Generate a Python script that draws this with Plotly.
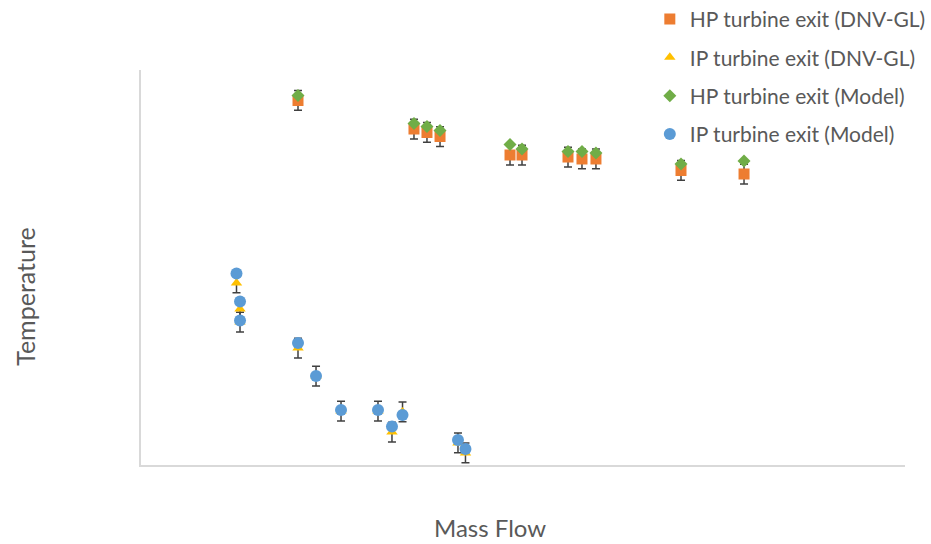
import plotly.graph_objects as go

# Mass flow (relative units) for the HP and IP turbine measurements
hp_flow = [20.55, 35.73, 37.43, 39.14, 48.30, 49.87, 55.89, 57.72, 59.55, 70.68, 78.93]
ip_flow = [12.50, 12.96, 12.96, 20.55, 22.91, 26.18, 31.02, 32.85, 34.23, 41.49, 42.47]

# Exit temperatures (relative units)
hp_dnv = [92.28, 85.06, 84.18, 83.16, 78.48, 78.48, 77.97, 77.47, 77.47, 74.56, 73.67]
hp_model = [93.54, 86.46, 85.70, 84.68, 81.14, 80.00, 79.37, 79.37, 78.99, 76.20, 76.96]
ip_dnv = [46.08, 39.49, 36.20, 29.62, 22.53, 13.67, 13.67, 8.35, 13.42, 5.57, 3.04]
ip_model = [48.48, 41.39, 36.58, 30.89, 22.53, 13.92, 13.92, 9.75, 12.66, 6.33, 4.05]

# Measurement uncertainty on the DNV-GL data
dnv_error = 2.5

names = ["HP turbine exit (DNV-GL)", "IP turbine exit (DNV-GL)",
         "HP turbine exit (Model)", "IP turbine exit (Model)"]

TEXT = "#595959"
err_style = dict(type="constant", value=dnv_error, color="#404040", thickness=1.5, width=4)

fig = go.Figure()
fig.add_trace(go.Scatter(
    x=hp_flow, y=hp_dnv, mode="markers", name=names[0], legendgroup="a",
    marker=dict(symbol="square", size=11, color="#ED7D31"),
    error_y=err_style))
fig.add_trace(go.Scatter(
    x=ip_flow, y=ip_dnv, mode="markers", name=names[1], legendgroup="b",
    marker=dict(symbol="triangle-up", size=10, color="#FFC000"),
    error_y=err_style))
fig.add_trace(go.Scatter(
    x=hp_flow, y=hp_model, mode="markers", name=names[2], legendgroup="c",
    marker=dict(symbol="diamond", size=10, color="#70AD47")))
fig.add_trace(go.Scatter(
    x=ip_flow, y=ip_model, mode="markers", name=names[3], legendgroup="d",
    marker=dict(symbol="circle", size=12, color="#5B9BD5")))

axis_common = dict(showgrid=False, zeroline=False, showticklabels=False, ticks="",
                   showline=True, linecolor="#D9D9D9", linewidth=1.5, fixedrange=True)

fig.update_layout(
    width=931, height=544,
    margin=dict(l=141, r=26, t=70, b=79, autoexpand=False),
    paper_bgcolor="white", plot_bgcolor="white",
    font=dict(family="Lato, 'Open Sans', sans-serif", color=TEXT, size=21),
    xaxis=dict(range=[0, 100], **axis_common),
    yaxis=dict(range=[0, 100], **axis_common),
    showlegend=True,
    legend=dict(x=0.666, y=1.18, xanchor="left", yanchor="top",
                bgcolor="rgba(0,0,0,0)", tracegroupgap=8,
                font=dict(size=21, color=TEXT)),
    annotations=[
        dict(text="Mass Flow", xref="paper", yref="paper", x=0.457, y=-0.157,
             xanchor="center", yanchor="middle", showarrow=False, borderpad=0,
             font=dict(size=24, color=TEXT)),
        dict(text="Temperature", xref="paper", yref="paper", x=-0.152, y=0.428,
             xanchor="center", yanchor="middle", showarrow=False, textangle=-90,
             font=dict(size=25, color=TEXT)),
    ],
)

fig.write_html("out.html")
